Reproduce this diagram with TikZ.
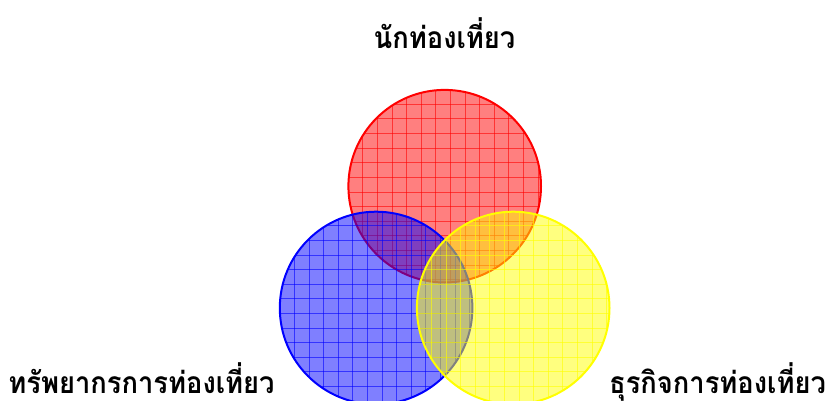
\documentclass[tikz,border=0pt]{standalone}
\usepackage{fontspec}
\newfontfamily\thaifont[Script=Thai,FakeStretch=0.91]{Loma}
\definecolor{vred}{RGB}{255,0,0}
\definecolor{vblue}{RGB}{0,0,255}
\definecolor{vyellow}{RGB}{255,255,0}
\tikzset{
  vennbase/.style={circle,inner sep=0pt,minimum size=192.6pt,line width=2pt,draw=#1,draw opacity=1,fill=#1,fill opacity=0.5},
  gridline/.style={draw=#1,line width=0.8pt,draw opacity=0.6},
  label/.style={font=\thaifont\bfseries\fontsize{30}{36}\selectfont,anchor=base,inner sep=0pt,text=black}
}
\newcommand{\gridlines}[3]{%
  \foreach \k in {-7,...,7}{
    \draw[gridline=#1] (#2+\k*14.6,-110) -- (#2+\k*14.6,110);
    \draw[gridline=#1] (-110,#3+\k*14.6) -- (110,#3+\k*14.6);
  }}
\begin{document}
\begin{tikzpicture}[x=1pt,y=-1pt]
\clip (0,0) rectangle (827,401);
\node[vennbase=vred,path picture={\gridlines{vred}{5.6}{-8.9}}] (tourist) at (444.7,186.2) {};
\node[vennbase=vblue,path picture={\gridlines{vblue}{-8.8}{5.3}}] (resource) at (376.1,308) {};
\node[vennbase=vyellow,path picture={\gridlines{vyellow}{-8.9}{5.3}}] (business) at (513.2,308) {};
\node[label] (ltourist) at (444.5,49) {นักท่องเที่ยว};
\node[label] (lresource) at (141.5,393) {ทรัพยากรการท่องเที่ยว};
\node[label] (lbusiness) at (717.5,393) {ธุรกิจการท่องเที่ยว};
\end{tikzpicture}
\end{document}
